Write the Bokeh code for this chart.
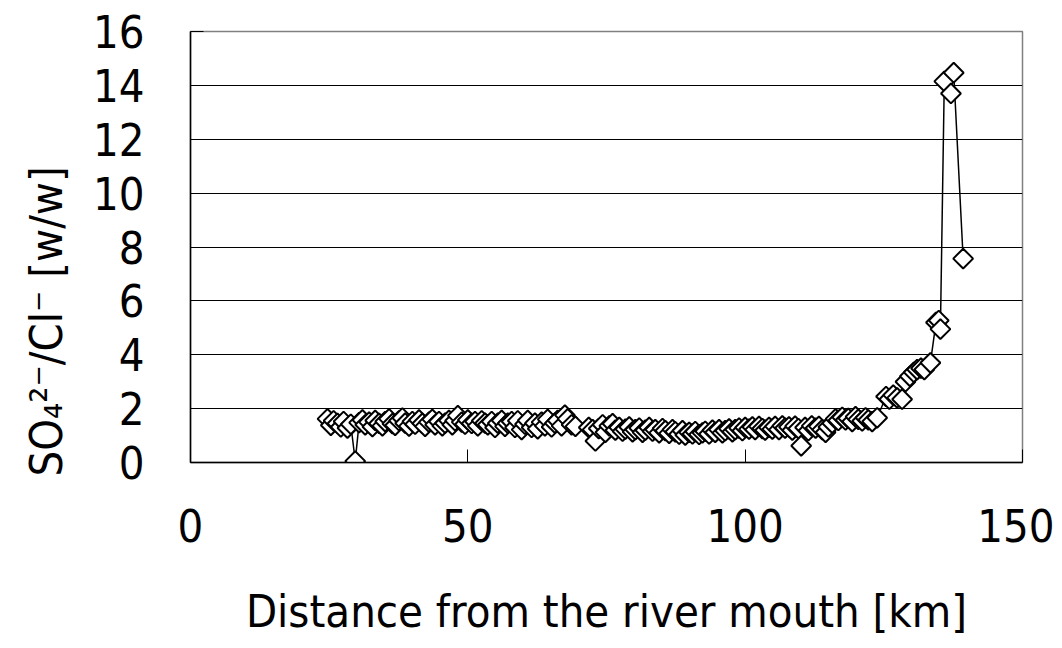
import math
from bokeh.plotting import figure
from bokeh.models import Range1d, FixedTicker, ColumnDataSource, Title
from bokeh.embed import file_html
from bokeh.resources import INLINE

# Distance from the river mouth [km]
distance_km = [
    24.7, 25.3, 25.8, 26.5, 27.1, 27.6, 28.3, 28.9, 29.7, 30.4,
    31.0, 31.5, 32.2, 32.8, 33.3, 34.0, 34.6, 35.1, 35.8, 36.4,
    36.9, 37.6, 38.2, 38.7, 39.4, 40.0, 40.5, 41.2, 41.8, 42.3,
    43.0, 43.6, 44.1, 44.8, 45.4, 45.9, 46.6, 47.2, 47.7, 48.2,
    48.9, 49.5, 50.0, 50.7, 51.3, 51.8, 52.5, 53.1, 53.6, 54.3,
    54.9, 55.4, 56.1, 56.7, 57.2, 57.9, 58.5, 59.0, 59.7, 60.3,
    60.8, 61.5, 62.1, 62.6, 63.3, 63.9, 64.4, 65.1, 65.7, 66.2,
    66.9, 67.5, 68.0, 68.7, 69.4, 71.8, 72.5, 73.0, 73.6, 74.3,
    74.8, 75.5, 76.1, 76.6, 77.3, 77.9, 78.4, 79.1, 79.7, 80.2,
    80.9, 81.5, 82.0, 82.7, 83.3, 83.8, 84.5, 85.1, 85.6, 86.3,
    86.9, 87.4, 88.1, 88.7, 89.2, 89.9, 90.5, 91.0, 91.7, 92.3,
    92.8, 93.5, 94.1, 94.6, 95.3, 95.9, 96.4, 97.1, 97.7, 98.2,
    98.9, 99.5, 100.0, 100.7, 101.3, 101.8, 102.5, 103.1, 103.6, 104.3,
    104.9, 105.4, 106.1, 106.7, 107.2, 107.9, 108.5, 109.0, 109.6, 110.1,
    110.8, 111.4, 112.0, 112.7, 113.3, 113.9, 114.5, 115.0, 115.7, 116.3,
    116.8, 117.5, 118.1, 118.6, 119.3, 119.9, 120.4, 121.1, 121.7, 122.2,
    122.9, 123.8, 125.4, 126.0, 126.7, 127.4, 128.3, 128.9, 129.7, 130.4,
    131.0, 131.7, 132.3, 133.4, 134.4, 134.9, 135.2, 135.9, 137.1, 137.6,
    139.3,
]

# SO4(2-)/Cl(-) ratio [w/w]
ratio_ww = [
    1.62, 1.38, 1.55, 1.45, 1.32, 1.52, 1.28, 1.42, 0.05, 1.48,
    1.58, 1.40, 1.50, 1.33, 1.56, 1.45, 1.36, 1.52, 1.62, 1.44,
    1.38, 1.55, 1.65, 1.46, 1.35, 1.52, 1.42, 1.58, 1.45, 1.34,
    1.50, 1.60, 1.40, 1.52, 1.36, 1.46, 1.56, 1.40, 1.55, 1.74,
    1.50, 1.42, 1.58, 1.45, 1.52, 1.36, 1.55, 1.46, 1.40, 1.52,
    1.30, 1.46, 1.56, 1.34, 1.46, 1.52, 1.30, 1.55, 1.22, 1.42,
    1.56, 1.30, 1.46, 1.25, 1.50, 1.36, 1.60, 1.32, 1.46, 1.56,
    1.36, 1.76, 1.62, 1.40, 1.34, 1.30, 1.22, 0.80, 1.26, 1.40,
    1.12, 1.36, 1.44, 1.20, 1.30, 1.16, 1.24, 1.32, 1.14, 1.22,
    1.28, 1.12, 1.20, 1.30, 1.16, 1.22, 1.10, 1.26, 1.18, 1.08,
    1.22, 1.14, 1.05, 1.18, 1.02, 1.12, 1.06, 1.15, 1.04, 1.10,
    1.16, 1.06, 1.20, 1.12, 1.22, 1.10, 1.18, 1.25, 1.14, 1.22,
    1.28, 1.18, 1.30, 1.24, 1.32, 1.22, 1.34, 1.26, 1.20, 1.30,
    1.24, 1.34, 1.22, 1.36, 1.28, 1.32, 1.20, 1.35, 1.26, 0.62,
    1.30, 1.18, 1.36, 1.28, 1.34, 1.22, 1.12, 1.32, 1.46, 1.62,
    1.56, 1.68, 1.58, 1.64, 1.52, 1.70, 1.60, 1.54, 1.66, 1.58,
    1.52, 1.66, 2.45, 2.35, 2.50, 2.40, 2.35, 3.00, 3.20, 3.35,
    3.45, 3.50, 3.45, 3.70, 5.20, 5.27, 4.95, 14.15, 13.70, 14.47,
    7.57,
]

x_ticks = [0, 50, 100, 150]
y_ticks = [0, 2, 4, 6, 8, 10, 12, 14, 16]
x_title = "Distance from the river mouth [km]"
y_title = "SO\u2084\u00b2\u207b/Cl\u207b  [w/w]"

FONT = "DejaVu Sans Condensed"
FS = "45px"

src = ColumnDataSource(dict(x=distance_km, y=ratio_ww))

p = figure(width=1054, height=640, output_backend="svg", toolbar_location=None,
           x_range=Range1d(0, 150), y_range=Range1d(0, 16),
           min_border_left=190, min_border_right=32,
           min_border_top=31, min_border_bottom=177)

p.background_fill_color = "white"
p.border_fill_color = "white"
p.outline_line_color = "#808080"
p.outline_line_width = 1.5

p.xgrid.visible = False
p.ygrid.grid_line_color = "black"
p.ygrid.grid_line_width = 1

p.xaxis.ticker = FixedTicker(ticks=x_ticks)
p.yaxis.ticker = FixedTicker(ticks=y_ticks)

for ax in (p.xaxis, p.yaxis):
    ax.axis_line_color = "black"
    ax.axis_line_width = 1.5
    ax.major_tick_in = 13
    ax.major_tick_out = 0
    ax.major_tick_line_color = "black"
    ax.minor_tick_line_color = None
    ax.major_label_text_font = FONT
    ax.major_label_text_font_size = FS
    ax.major_label_text_color = "black"

p.xaxis.major_label_standoff = 46
p.yaxis.major_label_standoff = 46

p.xaxis.axis_label = x_title
p.xaxis.axis_label_text_font = FONT
p.xaxis.axis_label_text_font_size = FS
p.xaxis.axis_label_text_font_style = "normal"
p.xaxis.axis_label_text_color = "black"
p.xaxis.axis_label_standoff = 40

p.line("x", "y", source=src, line_color="black", line_width=1.5)
p.scatter("x", "y", source=src, marker="square", size=14, angle=math.pi / 4,
          fill_color="white", line_color="black", line_width=2)

ytitle = Title(text=y_title, align="left", offset=-14,
               text_font=FONT, text_font_size=FS, text_font_style="normal",
               text_color="black", standoff=33)
p.add_layout(ytitle, "left")

open("out.html", "w").write(file_html(p, INLINE))
